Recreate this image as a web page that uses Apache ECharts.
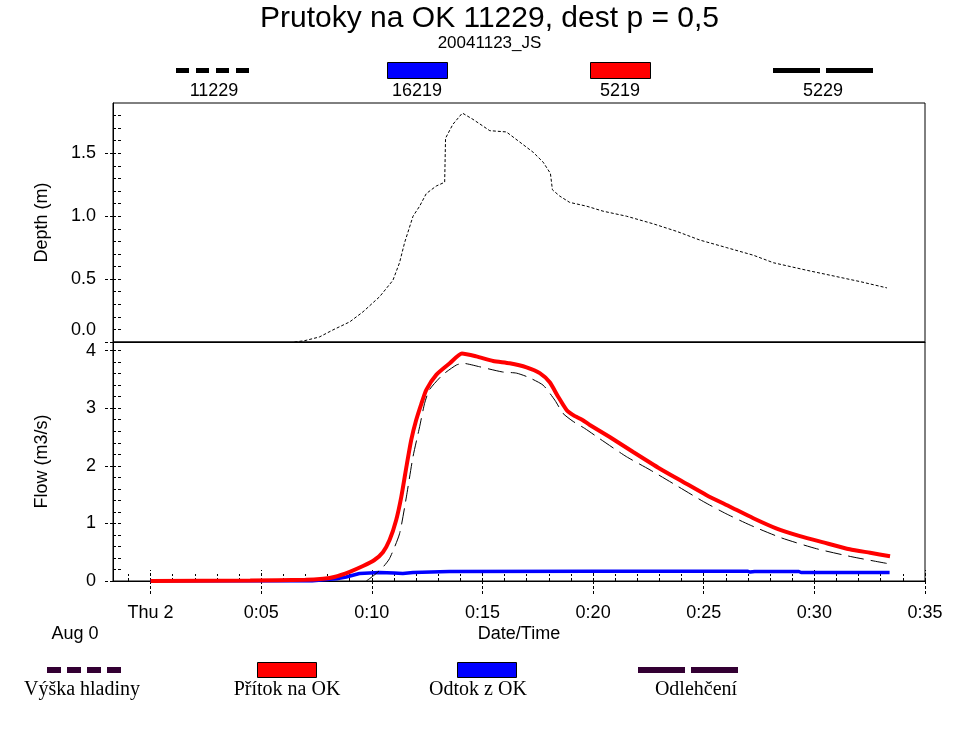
<!DOCTYPE html>
<html><head><meta charset="utf-8">
<script src="https://cdn.jsdelivr.net/npm/echarts@6/dist/echarts.min.js"></script>
<style>html,body{margin:0;padding:0;background:#fff}#c{width:979px;height:732px}</style>
</head><body><div id="c"></div><script>
// ---- data (time in minutes from Thu 2 0:00) ----
const depthTime   = [6.5, 6.95, 7.63, 8.24, 9.0, 9.6, 10.35, 10.95, 11.25, 11.48, 11.86, 12.16, 12.46, 12.91, 13.29, 13.33, 13.66, 14.09, 14.57, 15.33, 16.08, 16.68, 17.28, 17.74, 18.07, 18.16, 18.49, 18.94, 19.7, 20.45, 21.51, 22.71, 23.77, 24.83, 26.04, 27.24, 28.15, 29.66, 31.0, 32.07, 33.28];
const depthValues = [0, 0.01, 0.04, 0.096, 0.16, 0.24, 0.36, 0.49, 0.63, 0.79, 1.0, 1.08, 1.18, 1.24, 1.27, 1.62, 1.73, 1.82, 1.77, 1.68, 1.67, 1.59, 1.51, 1.43, 1.34, 1.21, 1.16, 1.11, 1.08, 1.04, 1.0, 0.94, 0.88, 0.81, 0.75, 0.69, 0.63, 0.57, 0.52, 0.48, 0.43];

const inflowTime   = [0, 4.5, 7.0, 7.8, 8.3, 9.0, 9.6, 10.1, 10.5, 10.8, 11.1, 11.33, 11.56, 11.78, 12.0, 12.24, 12.46, 12.91, 13.52, 14.07, 14.72, 15.48, 16.23, 16.99, 17.59, 18.04, 18.42, 18.8, 19.1, 19.5, 19.85, 20.75, 21.81, 23.02, 24.07, 25.13, 26.19, 27.24, 28.3, 29.35, 30.41, 31.6, 32.52, 33.42];
const inflowValues = [0, 0.01, 0.02, 0.04, 0.07, 0.16, 0.26, 0.36, 0.50, 0.71, 1.06, 1.46, 1.98, 2.45, 2.79, 3.08, 3.32, 3.58, 3.78, 3.95, 3.90, 3.82, 3.78, 3.71, 3.61, 3.45, 3.20, 2.97, 2.88, 2.80, 2.71, 2.50, 2.24, 1.95, 1.72, 1.49, 1.29, 1.09, 0.91, 0.78, 0.67, 0.55, 0.49, 0.43];

const outflowTime   = [0, 7.3, 7.8, 8.4, 8.84, 9.44, 10.35, 11.0, 11.4, 11.86, 13.5, 20.0, 27.0, 27.1, 27.3, 29.3, 29.4, 33.4];
const outflowValues = [0, 0.0, 0.02, 0.04, 0.07, 0.13, 0.146, 0.14, 0.13, 0.146, 0.163, 0.168, 0.168, 0.155, 0.165, 0.165, 0.148, 0.148];

const overflowTime   = [9.75, 10.1, 10.5, 10.8, 11.25, 11.56, 11.86, 12.16, 12.38, 12.6, 13.2, 13.82, 14.12, 14.87, 15.9, 16.53, 17.06, 17.74, 18.27, 18.64, 19.1, 19.62, 20.3, 21.5, 22.57, 23.8, 24.98, 26.0, 27.1, 28.5, 30.1, 31.7, 33.35];
const overflowValues = [0.0, 0.1, 0.24, 0.39, 0.82, 1.46, 2.16, 2.68, 3.08, 3.32, 3.58, 3.75, 3.78, 3.72, 3.63, 3.61, 3.54, 3.40, 3.14, 2.91, 2.77, 2.65, 2.47, 2.16, 1.93, 1.65, 1.38, 1.17, 0.97, 0.75, 0.56, 0.42, 0.30];

const xTickValues = [0, 5, 10, 15, 20, 25, 30, 35];
const xTickLabels = ['Thu 2', '0:05', '0:10', '0:15', '0:20', '0:25', '0:30', '0:35'];
const depthTickValues = [0, 0.5, 1, 1.5];
const depthTickLabels = ['0.0', '0.5', '1.0', '1.5'];
const flowTickValues = [0, 1, 2, 3, 4];
const flowTickLabels = ['0', '1', '2', '3', '4'];

// ---- layout ----
const XMIN = -1.7, XMAX = 35;
const DMAX = 1.9, QMAX = 4.15;
const FONT = 'Liberation Sans, Arial, sans-serif';
const SERIF = 'Liberation Serif, Times New Roman, serif';

function pairs(t, v) { return t.map((x, i) => [x, v[i]]); }
const minorX = []; for (let m = -1; m <= 34; m++) minorX.push(m);
const minorD = []; for (let k = 1; k <= 18; k++) minorD.push(+(k * 0.1).toFixed(1));
const minorQ = []; for (let k = 1; k <= 20; k++) minorQ.push(+(k * 0.2).toFixed(1));

const G0 = { left: 113, top: 103, width: 812, height: 239 };
const G1 = { left: 113, top: 342, width: 812, height: 239 };
const tickLine = { color: '#000', width: 1, type: [3, 2] };
const blank = { show: false };
const TICKFS = 18;

const chart = echarts.init(document.getElementById('c'), null, { renderer: 'canvas' });

chart.setOption({
  animation: false,
  backgroundColor: '#fff',
  title: [
    { text: 'Prutoky na OK 11229, dest p = 0,5', left: 'center', top: -1,
      textStyle: { fontFamily: FONT, fontSize: 30, fontWeight: 'normal', color: '#000' } },
    { text: '20041123_JS', left: 'center', top: 30,
      textStyle: { fontFamily: FONT, fontSize: 17, fontWeight: 'normal', color: '#000' } }
  ],
  grid: [
    Object.assign({ show: true, borderColor: '#000', borderWidth: 1, containLabel: false }, G0),
    Object.assign({ show: true, borderColor: '#000', borderWidth: 1, containLabel: false }, G1)
  ],
  xAxis: [
    { type: 'value', gridIndex: 0, min: XMIN, max: XMAX, axisLine: { show: true, onZero: false, lineStyle: { color: '#000' } },
      axisTick: blank, axisLabel: blank, splitLine: blank },
    { type: 'value', gridIndex: 1, min: XMIN, max: XMAX, position: 'bottom',
      axisLine: { show: true, onZero: false, lineStyle: { color: '#000' } },
      axisTick: { show: true, inside: false, length: 14, customValues: xTickValues, lineStyle: tickLine },
      axisLabel: { show: true, customValues: xTickValues, margin: 23, color: '#000', fontFamily: FONT, fontSize: TICKFS,
        formatter: v => { const i = xTickValues.indexOf(Math.round(v)); return i >= 0 ? xTickLabels[i] : ''; } },
      splitLine: blank,
      name: 'Date/Time', nameLocation: 'middle', nameGap: 44,
      nameTextStyle: { fontFamily: FONT, fontSize: 18, color: '#000' } },
    { type: 'value', gridIndex: 1, min: XMIN, max: XMAX, position: 'bottom',
      axisLine: { show: false, onZero: false },
      axisTick: { show: true, inside: true, length: 11, customValues: xTickValues, lineStyle: tickLine },
      axisLabel: blank, splitLine: blank },
    { type: 'value', gridIndex: 1, min: XMIN, max: XMAX, position: 'bottom',
      axisLine: { show: false, onZero: false },
      axisTick: { show: true, inside: true, length: 7, customValues: minorX, lineStyle: tickLine },
      axisLabel: blank, splitLine: blank }
  ],
  yAxis: [
    { type: 'value', gridIndex: 0, min: 0, max: DMAX, position: 'left', offset: 0,
      axisLine: { show: true, onZero: false, lineStyle: { color: '#000' } },
      axisTick: { show: true, inside: false, length: 8, customValues: depthTickValues, lineStyle: tickLine },
      axisLabel: { show: true, customValues: depthTickValues, margin: 17, color: '#000', fontFamily: FONT, fontSize: TICKFS,
        formatter: v => { const i = depthTickValues.indexOf(v); const s = i >= 0 ? depthTickLabels[i] : '';
          return v === 0 ? '{z|' + s + '}' : s; },
        rich: { z: { fontFamily: FONT, fontSize: TICKFS, color: '#000', padding: [0, 0, 24, 0] } } },
      splitLine: blank,
      name: 'Depth (m)', nameLocation: 'middle', nameGap: 62, nameRotate: 90,
      nameTextStyle: { fontFamily: FONT, fontSize: 18, color: '#000' } },
    { type: 'value', gridIndex: 0, min: 0, max: DMAX, position: 'left', offset: 0,
      axisLine: { show: false, onZero: false },
      axisTick: { show: true, inside: true, length: 8, customValues: minorD, lineStyle: tickLine },
      axisLabel: blank, splitLine: blank },
    { type: 'value', gridIndex: 1, min: 0, max: QMAX, position: 'left', offset: 0,
      axisLine: { show: true, onZero: false, lineStyle: { color: '#000' } },
      axisTick: { show: true, inside: false, length: 8, customValues: flowTickValues, lineStyle: tickLine },
      axisLabel: { show: true, customValues: flowTickValues, margin: 17, color: '#000', fontFamily: FONT, fontSize: TICKFS,
        formatter: v => { const i = flowTickValues.indexOf(v); return i >= 0 ? flowTickLabels[i] : ''; } },
      splitLine: blank,
      name: 'Flow (m3/s)', nameLocation: 'middle', nameGap: 62, nameRotate: 90,
      nameTextStyle: { fontFamily: FONT, fontSize: 18, color: '#000' } },
    { type: 'value', gridIndex: 1, min: 0, max: QMAX, position: 'left', offset: 0,
      axisLine: { show: false, onZero: false },
      axisTick: { show: true, inside: true, length: 8, customValues: minorQ, lineStyle: tickLine },
      axisLabel: blank, splitLine: blank }
  ],
  series: [
    { type: 'line', name: '11229', xAxisIndex: 0, yAxisIndex: 0, data: pairs(depthTime, depthValues),
      showSymbol: false, symbol: 'none', lineStyle: { color: '#000', width: 1, type: [3, 2] }, z: 3 },
    { type: 'line', name: '16219', xAxisIndex: 1, yAxisIndex: 2, data: pairs(outflowTime, outflowValues),
      showSymbol: false, symbol: 'none', lineStyle: { color: '#0000ff', width: 3.5 }, z: 2 },
    { type: 'line', name: '5219', xAxisIndex: 1, yAxisIndex: 2, data: pairs(inflowTime, inflowValues),
      smooth: 0.2, showSymbol: false, symbol: 'none', lineStyle: { color: '#ff0000', width: 4 }, z: 3 },
    { type: 'line', name: '5229', xAxisIndex: 1, yAxisIndex: 2, data: pairs(overflowTime, overflowValues),
      smooth: 0.2, showSymbol: false, symbol: 'none', lineStyle: { color: '#000', width: 1, type: [16, 7] }, z: 4 }
  ],
  graphic: [
    // top legend
    { type: 'line', shape: { x1: 176, y1: 70.5, x2: 252, y2: 70.5 }, style: { stroke: '#000', lineWidth: 5, lineDash: [13, 7] } },
    { type: 'text', style: { text: '11229', x: 214, y: 91, align: 'center', verticalAlign: 'middle', font: '18px ' + FONT, fill: '#000' } },
    { type: 'rect', shape: { x: 387.5, y: 62.5, width: 60, height: 16 }, style: { fill: '#0000ff', stroke: '#000', lineWidth: 1 } },
    { type: 'text', style: { text: '16219', x: 417, y: 91, align: 'center', verticalAlign: 'middle', font: '18px ' + FONT, fill: '#000' } },
    { type: 'rect', shape: { x: 590.5, y: 62.5, width: 60, height: 16 }, style: { fill: '#ff0000', stroke: '#000', lineWidth: 1 } },
    { type: 'text', style: { text: '5219', x: 620, y: 91, align: 'center', verticalAlign: 'middle', font: '18px ' + FONT, fill: '#000' } },
    { type: 'line', shape: { x1: 773, y1: 70.5, x2: 873, y2: 70.5 }, style: { stroke: '#000', lineWidth: 5, lineDash: [47, 6] } },
    { type: 'text', style: { text: '5229', x: 823, y: 91, align: 'center', verticalAlign: 'middle', font: '18px ' + FONT, fill: '#000' } },
    // date label
    { type: 'text', style: { text: 'Aug 0', x: 75, y: 634, align: 'center', verticalAlign: 'middle', font: '18px ' + FONT, fill: '#000' } },
    // bottom legend
    { type: 'line', shape: { x1: 47, y1: 670, x2: 123, y2: 670 }, style: { stroke: '#330033', lineWidth: 6, lineDash: [14, 6] } },
    { type: 'text', style: { text: 'Výška hladiny', x: 82, y: 690, align: 'center', verticalAlign: 'middle', font: '20px ' + SERIF, fill: '#000' } },
    { type: 'rect', shape: { x: 257.5, y: 662.5, width: 59, height: 15 }, style: { fill: '#ff0000', stroke: '#000', lineWidth: 1 } },
    { type: 'text', style: { text: 'Přítok na OK', x: 287, y: 690, align: 'center', verticalAlign: 'middle', font: '20px ' + SERIF, fill: '#000' } },
    { type: 'rect', shape: { x: 457.5, y: 662.5, width: 59, height: 15 }, style: { fill: '#0000ff', stroke: '#000', lineWidth: 1 } },
    { type: 'text', style: { text: 'Odtok z OK', x: 478, y: 690, align: 'center', verticalAlign: 'middle', font: '20px ' + SERIF, fill: '#000' } },
    { type: 'line', shape: { x1: 638, y1: 670, x2: 738, y2: 670 }, style: { stroke: '#330033', lineWidth: 6, lineDash: [47, 6] } },
    { type: 'text', style: { text: 'Odlehčení', x: 696, y: 690, align: 'center', verticalAlign: 'middle', font: '20px ' + SERIF, fill: '#000' } }
  ]
});
</script></body></html>
